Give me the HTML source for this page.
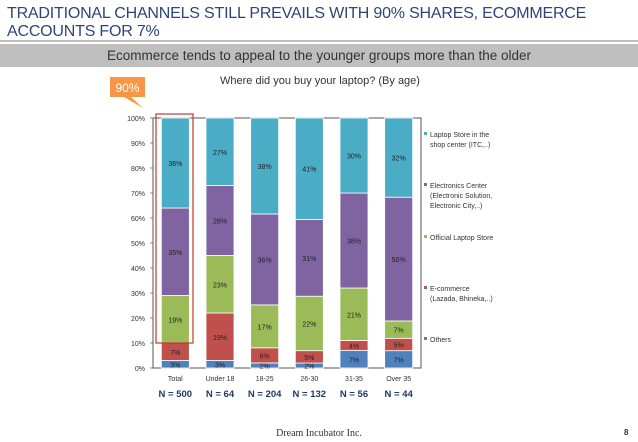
<!DOCTYPE html>
<html><head><meta charset="utf-8"><style>
body{margin:0;width:638px;height:442px;background:#fff;font-family:"Liberation Sans",sans-serif;overflow:hidden;position:relative}
.t{position:absolute}
</style></head><body>
<div class="t" style="left:7px;top:5px;font-size:16px;line-height:18px;color:#2e4577;letter-spacing:-0.2px">TRADITIONAL CHANNELS STILL PREVAILS WITH 90% SHARES, ECOMMERCE<br>ACCOUNTS FOR 7%</div>
<div class="t" style="left:0;top:40px;width:638px;height:2px;background:#bfbfbf"></div>
<div class="t" style="left:0;top:44px;width:638px;height:23px;background:#bfbfbf;color:#333;font-size:13.5px;line-height:23px;text-align:center">Ecommerce tends to appeal to the younger groups more than the older</div>
<div class="t" style="left:0;top:428px;width:638px;text-align:center;font-family:'Liberation Serif',serif;font-size:10px;color:#333">Dream Incubator Inc.</div>
<div class="t" style="left:624px;top:428px;font-size:8px;font-weight:bold;color:#333">8</div>
<svg id="chart" width="638" height="442" style="position:absolute;left:0;top:0" font-family="Liberation Sans, sans-serif"></svg>
<script>
const categories=["Total","Under 18","18-25","26-30","31-35","Over 35"];
const sampleSizes=["N = 500","N = 64","N = 204","N = 132","N = 56","N = 44"];
const others=[3,3,2,2,7,7];
const ecommerce=[7,19,6,5,4,5];
const officialStore=[19,23,17,22,21,7];
const electronicsCenter=[35,28,36,31,38,50];
const laptopStore=[36,27,38,41,30,32];
const yTicks=[0,10,20,30,40,50,60,70,80,90,100];
const seriesNames=["Others","E-commerce","Official Laptop Store","Electronics Center","Laptop Store in the shop center"];
const NS="http://www.w3.org/2000/svg";
const svg=document.getElementById('chart');
const X0=153,X1=421,Y0=368,Y1=118;
const bw=(X1-X0)/categories.length;
const xc=i=>X0+bw*(i+0.5);
const yv=v=>Y0-(Y0-Y1)*v/100;
function mk(t,a){const e=document.createElementNS(NS,t);for(const k in a)e.setAttribute(k,a[k]);svg.appendChild(e);return e;}
const series=[others,ecommerce,officialStore,electronicsCenter,laptopStore];
const colors=["#4f81bd","#c0504d","#9bbb59","#8064a2","#4bacc6"];
let e=mk('text',{x:320,y:84,'font-size':11,fill:'#333','text-anchor':'middle'});e.textContent="Where did you buy your laptop? (By age)";


yTicks.forEach(t=>{
 let l=mk('line',{x1:X0-3,x2:X0,y1:yv(t),y2:yv(t),stroke:'#888'});
 
 
 let tx=mk('text',{x:X0-8,y:yv(t)+3,'font-size':7,fill:'#333','text-anchor':'end'});tx.textContent=t+'%';
 
 
});
let ax=mk('path',{d:`M${X0} ${Y1}V${Y0}H${X1}V${Y1}H${X0}`,stroke:'#555',fill:'none','stroke-width':1});


categories.forEach((c,i)=>{
 let tot=series.reduce((s,a)=>s+a[i],0),acc=0;
 series.forEach((s,k)=>{
  const v=s[i]*100/tot;const yt=yv(acc+v),yb=yv(acc);
  let r=mk('rect',{x:xc(i)-14,y:yt,width:28,height:yb-yt,fill:colors[k],stroke:'#fff','stroke-width':0.8});
  
  
  let tx=mk('text',{x:xc(i),y:(yt+yb)/2+3,'font-size':7,fill:'#222','text-anchor':'middle'});tx.textContent=s[i]+'%';
  
  
  acc+=v;
 });
 let cl=mk('text',{x:xc(i),y:381,'font-size':7,fill:'#333','text-anchor':'middle'});cl.textContent=c;
 
 
 let nl=mk('text',{x:xc(i),y:397,'font-size':9.5,'font-weight':'bold',fill:'#1f3864','text-anchor':'middle'});nl.textContent=sampleSizes[i];
 
 
});
let hl=mk('rect',{x:156,y:114,width:37,height:yv(10)-114,fill:'none',stroke:'#c0392b','stroke-width':1.2});


let cp=mk('path',{d:'M110 77H145V97H131L143 108L124 97H110Z',fill:'#f79646'});


let ct=mk('text',{x:127.5,y:92,'font-size':12,fill:'#fff','text-anchor':'middle'});ct.textContent="90%";


const legendLines=[["Laptop Store in the","shop center (ITC,..)"],["Electronics Center","(Electronic Solution,","Electronic City,..)"],["Official Laptop Store"],["E-commerce","(Lazada, Bhineka,..)"],["Others"]];
const legendY=[137,188,240,291,342];
const legendColor=[colors[4],colors[3],colors[2],colors[1],colors[0]];
legendLines.forEach((ls,j)=>{
 let sq=mk('rect',{x:424,y:legendY[j]-5,width:3,height:3,fill:legendColor[j]});
 
 
 ls.forEach((s,m)=>{let t=mk('text',{x:430,y:legendY[j]+m*10,'font-size':7,fill:'#333'});t.textContent=s;
 
 });
});
</script>
</body></html>
